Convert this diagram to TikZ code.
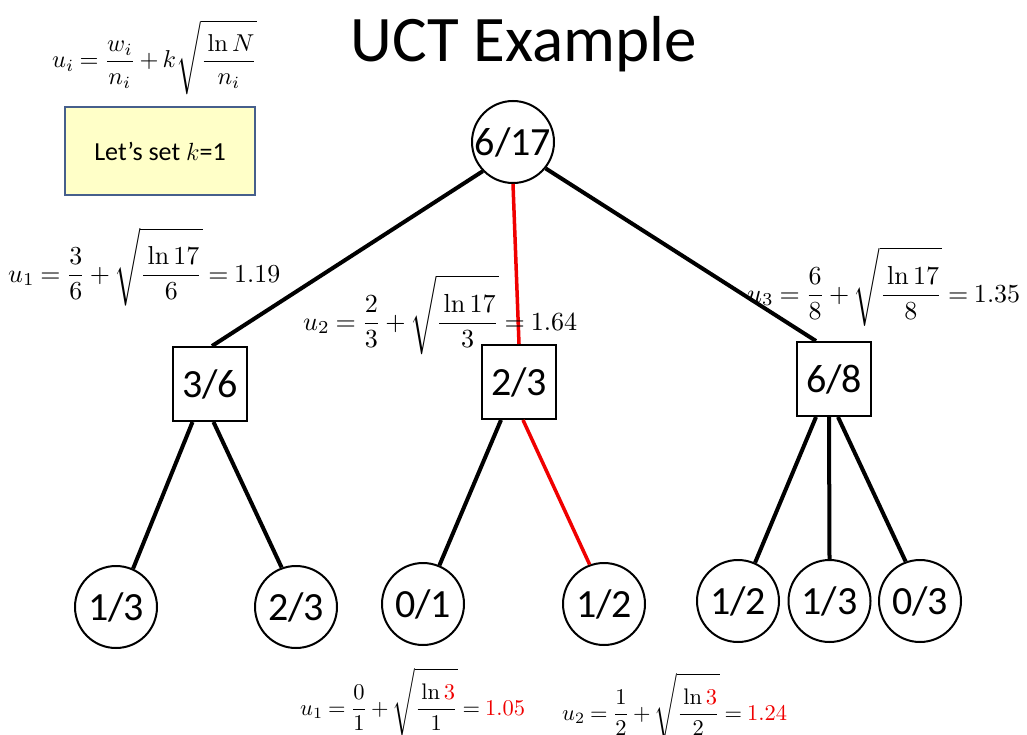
\documentclass[tikz,border=0pt]{standalone}
\usepackage{amsmath}
\usepackage{graphicx}
\usepackage[no-math]{fontspec}
\setmainfont{Carlito}
\definecolor{boxfill}{RGB}{255,255,200}
\definecolor{boxline}{RGB}{70,95,140}
\definecolor{hot}{RGB}{240,0,0}
\newcommand{\tightmath}{\thickmuskip=4mu\medmuskip=3mu}
\newcommand{\nstrut}{\rule{0pt}{9.5pt}}
\tikzset{
  statecirc/.style={circle,draw,line width=2pt,minimum size=82pt,inner sep=0pt,font=\fontsize{40}{44}\selectfont},
  statesq/.style={rectangle,draw,line width=2pt,minimum size=74pt,inner sep=0pt,font=\fontsize{40}{44}\selectfont},
  edge/.style={line width=4pt},
  redge/.style={line width=3.5pt,draw=hot},
  eqn/.style={inner sep=0pt,anchor=base west},
  kbox/.style={draw=boxline,fill=boxfill,line width=2.5pt,minimum width=190pt,minimum height=88pt,inner sep=0pt,font=\fontsize{26}{30}\selectfont}
}
\begin{document}
\begin{tikzpicture}[x=1pt,y=-1pt]
\useasboundingbox (0,0) rectangle (1027,735);
\clip (0,0) rectangle (1027,735);
\fill[white] (0,0) rectangle (1027,735);

% title
\node (title) at (524,44) {\fontsize{65}{70}\selectfont UCT Example};

% formula and box
\node[eqn] (fml) at (52,68) {\resizebox{205pt}{!}{$\tightmath\displaystyle u_i=\frac{w_i}{n_i}+k\sqrt{\frac{\rule{0pt}{8pt}\ln N}{n_i}}$}};
\node[kbox] (kb) at (160,151) {Let’s set $k$=1};

% nodes
\node[statecirc] (root) at (513,142) {6/17};
\node[statesq] (s1) at (210,384) {3/6};
\node[statesq] (s2) at (519,382) {2/3};
\node[statesq] (s3) at (834,379) {6/8};
\node[statecirc] (l1) at (116,607) {1/3};
\node[statecirc] (l2) at (296,607) {2/3};
\node[statecirc] (l3) at (423,604) {0/1};
\node[statecirc] (l4) at (604,604) {1/2};
\node[statecirc] (l5) at (738,601) {1/2};
\node[statecirc] (l6) at (829.5,601) {1/3};
\node[statecirc] (l7) at (920,601) {0/3};

% edges
\draw[edge] (root.224) -- ([xshift=2pt]s1.north);
\draw[redge] (root.south) -- (s2.north);
\draw[edge] (root.-39) -- ([xshift=-18pt]s3.north);
\draw[edge] ([xshift=-17.5pt]s1.south) -- (l1.66);
\draw[edge] ([xshift=3.5pt]s1.south) -- (l2.110);
\draw[edge] ([xshift=-18pt]s2.south) -- (l3.67);
\draw[redge] ([xshift=4pt]s2.south) -- (l4.110);
\draw[edge] ([xshift=-18pt]s3.south) -- (l5.66);
\draw[edge] ([xshift=-5pt]s3.south) -- (l6.north);
\draw[edge] ([xshift=4pt]s3.south) -- (l7.110);

% value labels
\node[eqn] (u1) at (8,282) {\resizebox{272pt}{!}{$\tightmath\displaystyle u_1=\frac{3}{6}+\sqrt{\frac{\nstrut\ln 17}{6}}=1.19$}};
\node[eqn] (u2) at (303,330) {\resizebox{274pt}{!}{$\tightmath\displaystyle u_2=\frac{2}{3}+\sqrt{\frac{\nstrut\ln 17}{3}}=1.64$}};
\node[eqn] (u3) at (747,302) {\resizebox{273pt}{!}{$\tightmath\displaystyle u_3=\frac{6}{8}+\sqrt{\frac{\nstrut\ln 17}{8}}=1.35$}};
\node[eqn] (b1) at (300,715) {\resizebox{225pt}{!}{$\tightmath\displaystyle u_1=\frac{0}{1}+\sqrt{\frac{\nstrut\ln \textcolor{hot}{3}}{1}}=\textcolor{hot}{1.05}$}};
\node[eqn] (b2) at (562,720) {\resizebox{225pt}{!}{$\tightmath\displaystyle u_2=\frac{1}{2}+\sqrt{\frac{\nstrut\ln \textcolor{hot}{3}}{2}}=\textcolor{hot}{1.24}$}};
\end{tikzpicture}
\end{document}
